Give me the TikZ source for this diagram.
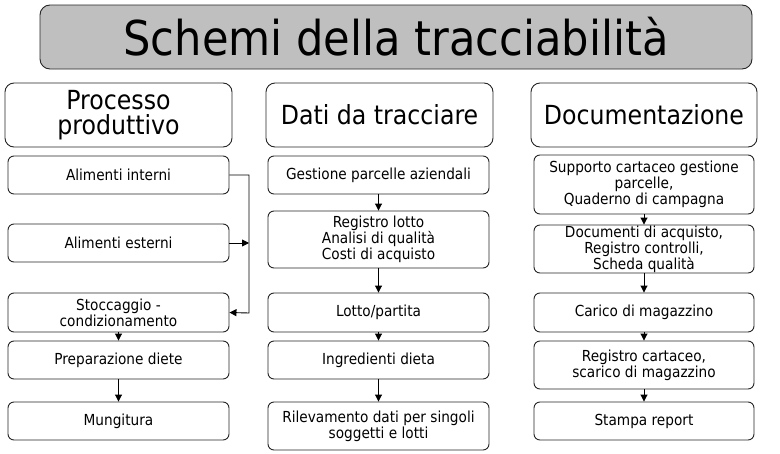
\documentclass[tikz,border=0pt]{standalone}
\usepackage{fontspec}
\setmainfont{DejaVu Sans Condensed}
\usetikzlibrary{arrows.meta}
\begin{document}
\begin{tikzpicture}[x=1pt,y=-1pt,
  box/.style={draw=black!85, line width=0.9pt, rounded corners=6pt, fill=white, align=center,
    font=\fontsize{15.2}{16}\selectfont, inner sep=0pt},
  headbox/.style={box, rounded corners=9pt, font=\fontsize{26.3}{25}\selectfont},
  arr/.style={-{Triangle[width=7pt,length=7pt]}, line width=0.9pt, draw=black}]
\useasboundingbox (0,0) rectangle (780,453);
% title
\node[box, rounded corners=10pt, fill=black!25, minimum width=712pt, minimum height=64pt,
  font=\fontsize{48}{50}\selectfont] (title) at (396,37) {Schemi della tracciabilità};
% headers
\node[headbox, minimum width=227pt, minimum height=64pt] (h1) at (118.5,115) {Processo\\produttivo};
\node[headbox, minimum width=227pt, minimum height=64pt] (h2) at (379.5,115) {Dati da tracciare};
\node[headbox, minimum width=226pt, minimum height=64pt] (h3) at (644,115) {Documentazione};
% left column
\node[box, minimum width=221pt, minimum height=38pt] (ai) at (118.5,175) {Alimenti interni};
\node[box, minimum width=221pt, minimum height=38pt] (ae) at (118.5,243) {Alimenti esterni};
\node[box, minimum width=221pt, minimum height=39pt] (st) at (118.5,312.5) {Stoccaggio -\\condizionamento};
\node[box, minimum width=221pt, minimum height=38pt] (pd) at (118.5,360) {Preparazione diete};
\node[box, minimum width=221pt, minimum height=38pt] (mu) at (118.5,421) {Mungitura};
% middle column
\node[box, minimum width=221pt, minimum height=38pt] (gp) at (378.5,175) {Gestione parcelle aziendali};
\node[box, minimum width=221pt, minimum height=57pt] (rl) at (378.5,239.5) {Registro lotto\\Analisi di qualità\\Costi di acquisto};
\node[box, minimum width=221pt, minimum height=39pt] (lp) at (378.5,312.5) {Lotto/partita};
\node[box, minimum width=221pt, minimum height=38pt] (id) at (378.5,360) {Ingredienti dieta};
\node[box, minimum width=221pt, minimum height=48pt] (rd) at (378.5,426) {Rilevamento dati per singoli\\soggetti e lotti};
% right column
\node[box, minimum width=220pt, minimum height=59pt] (sc) at (644,184.5) {Supporto cartaceo gestione\\parcelle,\\Quaderno di campagna};
\node[box, minimum width=220pt, minimum height=48pt] (da) at (644,249) {Documenti di acquisto,\\Registro controlli,\\Scheda qualità};
\node[box, minimum width=220pt, minimum height=39pt] (cm) at (644,312.5) {Carico di magazzino};
\node[box, minimum width=220pt, minimum height=48pt] (rc) at (644,365) {Registro cartaceo,\\scarico di magazzino};
\node[box, minimum width=220pt, minimum height=38pt] (sr) at (644,421) {Stampa report};
% connectors left
\coordinate (j) at (249,313);
\draw[arr] (ai.east) -| (j) -- (st.east);
\draw[arr] (ae.east) -- (ae.east -| j);
\draw[arr] (st) -- (pd);
\draw[arr] (pd) -- (mu);
% middle
\draw[arr] (gp) -- (rl);
\draw[arr] (rl) -- (lp);
\draw[arr] (lp) -- (id);
\draw[arr] (id) -- (rd);
% right
\draw[arr] (sc) -- (da);
\draw[arr] (da) -- (cm);
\draw[arr] (cm) -- (rc);
\draw[arr] (rc) -- (sr);
\end{tikzpicture}
\end{document}
